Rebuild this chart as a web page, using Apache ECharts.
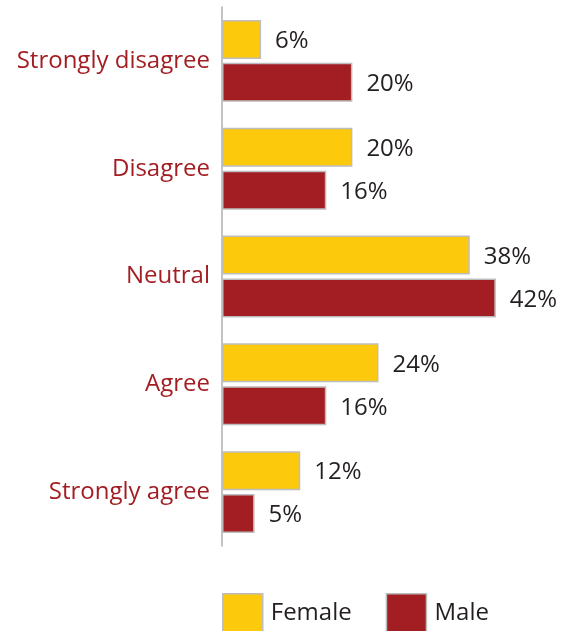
<!DOCTYPE html>
<html>
<head>
<meta charset="utf-8">
<script src="https://cdn.jsdelivr.net/npm/echarts@6/dist/echarts.min.js"></script>
<style>
  html, body { margin: 0; padding: 0; background: #fff; }
  #chart { width: 566px; height: 631px; }
</style>
</head>
<body>
<div id="chart"></div>
<script>
const categories = ['Strongly disagree', 'Disagree', 'Neutral', 'Agree', 'Strongly agree']
const female = [6, 20, 38, 24, 12]
const male = [20, 16, 42, 16, 5]

const FONT = '"Open Sans", sans-serif'
const YELLOW = '#FDC90D'
const RED = '#A31E23'

const chart = echarts.init(document.getElementById('chart'))

// shared bar look
function barSeries(name, data, color) {
  return {
    name,
    type: 'bar',
    data,
    barWidth: 39,
    barGap: '10%',
    itemStyle: { color, borderColor: '#BDBDBD', borderWidth: 1.5 },
    label: {
      show: true,
      position: 'right',
      distance: 14,
      offset: [0, 2],
      formatter: '{c}%',
      color: '#231F20',
      fontSize: 24,
      fontFamily: FONT,
    },
  }
}

chart.setOption({
  animation: false,
  grid: { left: 222, right: 18, top: 7, bottom: 85 },
  xAxis: {
    type: 'value',
    min: 0,
    max: 50,
    show: false,
  },
  yAxis: {
    type: 'category',
    data: categories,
    inverse: true,
    axisLine: { lineStyle: { color: '#AFAFAF', width: 1.5 } },
    axisTick: { show: false },
    axisLabel: {
      color: RED,
      fontSize: 24,
      fontFamily: FONT,
      margin: 12,
      padding: [0, 0, 2, 0],
    },
  },
  legend: {
    left: 222,
    top: 593,
    padding: 0,
    itemWidth: 40,
    itemHeight: 38,
    itemGap: 34,
    icon: 'rect',
    textStyle: { color: '#231F20', fontSize: 24, fontFamily: FONT, padding: [4, 0, 0, 3] },
    data: [
      { name: 'Female', itemStyle: { borderColor: '#BDBDBD', borderWidth: 1.5 } },
      { name: 'Male', itemStyle: { borderColor: '#BDBDBD', borderWidth: 1.5 } },
    ],
  },
  series: [
    barSeries('Female', female, YELLOW),
    barSeries('Male', male, RED),
  ],
})
</script>
</body>
</html>
